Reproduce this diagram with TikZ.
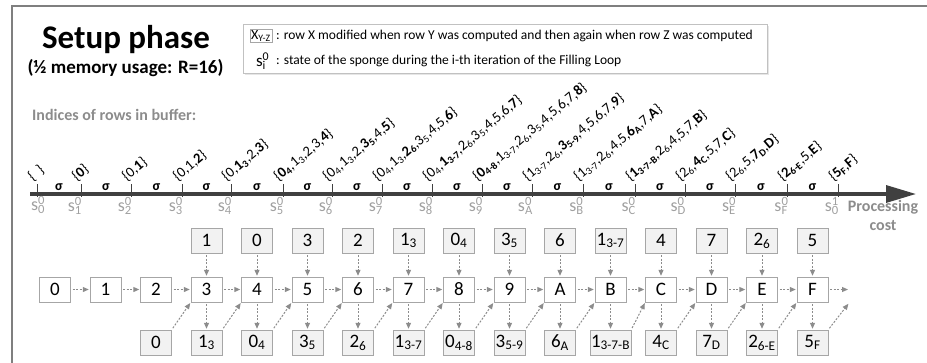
\documentclass[tikz,border=0pt]{standalone}
\usepackage{fontspec}
\setmainfont{Carlito}
\usetikzlibrary{arrows.meta,shadows,calc}
\definecolor{framegray}{HTML}{7F7F7F}
\definecolor{axisgray}{HTML}{404040}
\definecolor{labgray}{HTML}{8C8C8C}
\definecolor{sgray}{HTML}{A0A0A0}
\definecolor{boxborder}{HTML}{A6A6A6}
\definecolor{boxfill}{HTML}{F2F2F2}
\definecolor{arrgray}{HTML}{8C8C8C}
\newcommand\bs[2]{\textbf{#1\textsubscript{#2}}}
\newcommand\ns[2]{#1\textsubscript{#2}}
\newcommand\sstate[2]{s\rlap{\textsuperscript{#1}}\textsubscript{#2}}
\tikzset{
  midbox/.style={draw=boxborder, fill=white, minimum width=31pt, minimum height=25pt, inner sep=1pt, font=\fontsize{19}{19}\selectfont},
  sidebox/.style={midbox, fill=boxfill},
  flow/.style={draw=arrgray, line width=1pt, dash pattern=on 2pt off 1.5pt, -{Triangle[length=6pt,width=5pt]}, shorten <=2pt, shorten >=1pt},
  rowlab/.style={rotate=40, anchor=south west, inner sep=0.5pt, font=\fontsize{14.5}{14.5}\selectfont},
  sig/.style={font=\fontsize{14}{14}\selectfont\bfseries, inner sep=0pt},
  slab/.style={text=sgray, anchor=north east, inner sep=0pt, font=\fontsize{18}{18}\selectfont},
  tick/.style={draw=axisgray, line width=1pt},
}
\begin{document}
\begin{tikzpicture}[x=1pt,y=-1pt]
\useasboundingbox (0,0) rectangle (927,362);
% frame
\draw[framegray, line width=2pt] (12,363) -- (12,6) -- (928,6);
% title
\node[anchor=base, font=\fontsize{33}{33}\selectfont\bfseries, inner sep=0pt] (title) at (126,48) {Setup phase};
\node[anchor=base, font=\fontsize{19}{19}\selectfont\bfseries, inner sep=0pt] (sub) at (125.5,73) {(½ memory usage: R=16)};
% legend
\node[draw=boxborder!70, fill=white, drop shadow={opacity=0.2, shadow xshift=1.5pt, shadow yshift=-1.5pt}, minimum width=524pt, minimum height=49pt, anchor=north west, inner sep=0pt] (legend) at (243,24) {};
\node[draw=boxborder, inner sep=1pt, font=\fontsize{14}{14}\selectfont] (lx) at (261,36) {X\textsubscript{Y-Z}};
\node[anchor=west, inner sep=0pt, font=\fontsize{13.5}{13.5}\selectfont] (l1) at (276,36) {: row X modified when row Y was computed and then again when row Z was computed};
\node[inner sep=0pt, font=\fontsize{17}{17}\selectfont] (ls) at (261,61) {\sstate{0}{i}};
\node[anchor=west, inner sep=0pt, font=\fontsize{13.5}{13.5}\selectfont] (l2) at (276,61) {: state of the sponge during the i-th iteration of the Filling Loop};
% indices
\node[anchor=west, text=labgray, font=\fontsize{16}{16}\selectfont\bfseries, inner sep=0pt] (ind) at (32,115) {Indices of rows in buffer:};
% axis
\coordinate (ax0) at (30,194);
\coordinate (ax1) at (916,194);
\draw[axisgray, line width=3.3pt, -{Triangle[length=30pt,width=17pt]}] (ax0) -- (ax1);
\node[text=labgray, align=center, font=\fontsize{16}{19}\selectfont\bfseries, inner sep=0pt, anchor=north] (pc) at (883,200) {Processing\\cost};
% ticks
\foreach \x [count=\i from 0] in {37,81,131,182,231,283,332,382,432,482,532,583,635,685,735,787,838}{
  \coordinate (t\i) at (\x,184);
  \coordinate (tb\i) at (\x,197);
  \draw[tick] (t\i) -- (tb\i);
}
% sigmas
\foreach \i [evaluate=\i as \j using int(\i+1)] in {0,...,15}{
  \node[sig] (sg\i) at ($(t\i)!0.5!(t\j)+(0,3)$) {σ};
}
% s labels
\node[slab, anchor=north] (s0) at (38,196) {\sstate{0}{0}};
\foreach \i/\n [count=\k from 1] in {1/1,2/2,3/3,4/4,5/5,6/6,7/7,8/8,9/9,10/A,11/B,12/C,13/D,14/E,15/F}{
  \node[slab] (s\i) at ([xshift=1pt]tb\i) {\sstate{0}{\n}};
}
\node[slab] (s16) at ([xshift=1pt]tb16) {\sstate{1}{0}};
% rotated labels
\node[rowlab] (r0) at ([xshift=-3pt]t0) {\{\ \ \}};
\node[rowlab] (r1) at ([xshift=-3pt]t1) {\{\textbf{0}\}};
\node[rowlab] (r2) at ([xshift=-3pt]t2) {\{0,\textbf{1}\}};
\node[rowlab] (r3) at ([xshift=-3pt]t3) {\{0,1,\textbf{2}\}};
\node[rowlab] (r4) at ([xshift=-3pt]t4) {\{0,\bs{1}{3},2,\textbf{3}\}};
\node[rowlab] (r5) at ([xshift=-3pt]t5) {\{\bs{0}{4},\ns{1}{3},2,3,\textbf{4}\}};
\node[rowlab] (r6) at ([xshift=-3pt]t6) {\{\ns{0}{4},\ns{1}{3},2,\bs{3}{5},4,\textbf{5}\}};
\node[rowlab] (r7) at ([xshift=-3pt]t7) {\{\ns{0}{4},\ns{1}{3},\bs{2}{6},\ns{3}{5},4,5,\textbf{6}\}};
\node[rowlab] (r8) at ([xshift=-3pt]t8) {\{\ns{0}{4},\bs{1}{3-7},\ns{2}{6},\ns{3}{5},4,5,6,\textbf{7}\}};
\node[rowlab] (r9) at ([xshift=-3pt]t9) {\{\bs{0}{4-8},\ns{1}{3-7},\ns{2}{6},\ns{3}{5},4,5,6,7,\textbf{8}\}};
\node[rowlab] (r10) at ([xshift=-3pt]t10) {\{\ns{1}{3-7},\ns{2}{6},\bs{3}{5-9},4,5,6,7,\textbf{9}\}};
\node[rowlab] (r11) at ([xshift=-3pt]t11) {\{\ns{1}{3-7},\ns{2}{6},4,5,\bs{6}{A},7,\textbf{A}\}};
\node[rowlab] (r12) at ([xshift=-3pt]t12) {\{\bs{1}{3-7-B},\ns{2}{6},4,5,7,\textbf{B}\}};
\node[rowlab] (r13) at ([xshift=-3pt]t13) {\{\ns{2}{6},\bs{4}{C},5,7,\textbf{C}\}};
\node[rowlab] (r14) at ([xshift=-3pt]t14) {\{\ns{2}{6},5,\bs{7}{D},\textbf{D}\}};
\node[rowlab] (r15) at ([xshift=-3pt]t15) {\{\bs{2}{6-E},5,\textbf{E}\}};
\node[rowlab] (r16) at ([xshift=-3pt]t16) {\{\bs{5}{F},\textbf{F}\}};
% middle row
\foreach \n [count=\i from 0] in {0,1,2,3,4,5,6,7,8,9,A,B,C,D,E,F}{
  \node[midbox] (m\i) at (55+50.5*\i,289.5) {\n};
}
% top row
\foreach \i/\t in {3/1,4/0,5/3,6/2,7/\ns{1}{3},8/\ns{0}{4},9/\ns{3}{5},10/6,11/\ns{1}{3-7},12/4,13/7,14/\ns{2}{6},15/5}{
  \node[sidebox] (u\i) at (55+50.5*\i,240.5) {\t};
  \draw[flow] (u\i) -- (m\i);
}
% bottom row
\node[sidebox] (b2) at (55+50.5*2,342.5) {0};
\foreach \i/\t in {3/\ns{1}{3},4/\ns{0}{4},5/\ns{3}{5},6/\ns{2}{6},7/\ns{1}{3-7},8/\ns{0}{4-8},9/\ns{3}{5-9},10/\ns{6}{A},11/\ns{1}{3-7-B},12/\ns{4}{C},13/\ns{7}{D},14/\ns{2}{6-E},15/\ns{5}{F}}{
  \node[sidebox] (b\i) at (55+50.5*\i,342.5) {\t};
  \draw[flow] (m\i) -- (b\i);
}
% horizontal arrows
\foreach \i [evaluate=\i as \j using int(\i+1)] in {0,...,14}{
  \draw[flow] (m\i) -- (m\j);
}
\coordinate (hend) at (849,289.5);
\draw[flow] (m15) -- (hend);
% diagonal arrows
\foreach \i [evaluate=\i as \j using int(\i+1)] in {2,...,14}{
  \draw[flow] (b\i.north east) -- (m\j.south west);
}
\coordinate (dend) at (849,303);
\draw[flow] (b15.north east) -- (dend);
\end{tikzpicture}
\end{document}
